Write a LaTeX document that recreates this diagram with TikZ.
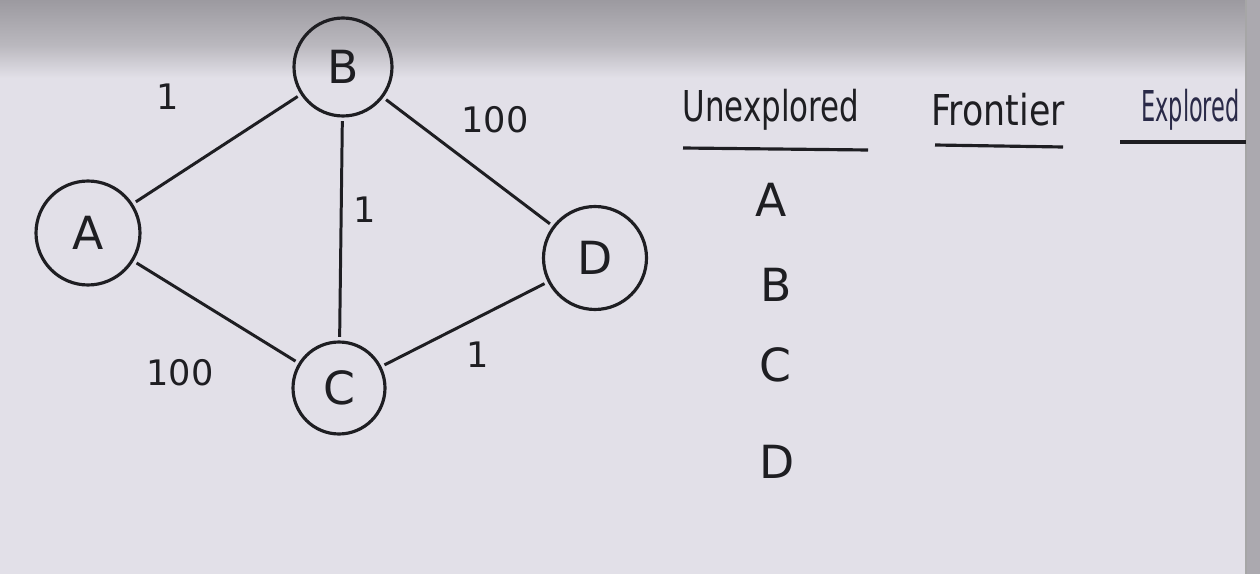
\documentclass[tikz,border=0pt]{standalone}
\usepackage{graphicx}
\usepackage{fontspec}
\setmainfont{DejaVu Sans}
\usetikzlibrary{shadings}
\definecolor{board}{HTML}{E2E0E8}
\definecolor{band}{HTML}{BAB8BE}
\definecolor{bandtop}{HTML}{9C9AA0}
\definecolor{edgegray}{HTML}{ABA9AF}
\definecolor{ink}{HTML}{1E1E22}
\definecolor{blueink}{HTML}{2A2A48}
\begin{document}
\begin{tikzpicture}[x=0.02cm,y=-0.02cm,
  vert/.style={circle,draw=ink,line width=1.8pt,inner sep=0pt,text=ink,font=\fontsize{26}{28}\selectfont},
  edge/.style={draw=ink,line width=1.7pt,shorten <=2pt,shorten >=2pt},
  wlabel/.style={text=ink,font=\fontsize{20}{22}\selectfont},
  head/.style={text=ink,font=\fontsize{22}{24}\selectfont},
  uline/.style={draw=ink,line width=1.8pt},
  item/.style={text=ink,font=\fontsize{26}{28}\selectfont}]
\useasboundingbox (0,0) rectangle (1260,574);
\fill[board] (0,0) rectangle (1260,574);
\shade[top color=bandtop, bottom color=band] (0,0) rectangle (1260,45);
\shade[top color=band, bottom color=board] (0,45) rectangle (1260,78);
\fill[edgegray] (1246,0) rectangle (1260,574);
\draw[gray!70,line width=0.6pt] (1246,0) -- (1246,574);
% vertices
\node[vert,minimum size=2.08cm] (A) at (88,233) {A};
\node[vert,minimum size=1.96cm] (B) at (343,67) {B};
\node[vert,minimum size=1.84cm] (C) at (339,388) {C};
\node[vert,minimum size=2.06cm] (D) at (595,258) {D};
% edges
\draw[edge] (A) -- (B);
\draw[edge] (B) -- (C);
\draw[edge] (B) -- (D);
\draw[edge] (A) -- (C);
\draw[edge] (C) -- (D);
% weights
\node[wlabel] (wab) at (168,97) {1};
\node[wlabel] (wbd) at (495,120) {100};
\node[wlabel] (wbc) at (365,210) {1};
\node[wlabel] (wac) at (180,373) {100};
\node[wlabel] (wcd) at (478,355) {1};
% table
\node[head] (hu) at (771,110) {\scalebox{0.8}[1.1]{Unexplored}};
\node[head] (hf) at (998,110) {\scalebox{0.9}[1.1]{Frontier}};
\node[head,text=blueink,anchor=west,inner xsep=0pt] (he) at (1141,110) {\scalebox{0.58}[1.1]{Explored}};
\coordinate (u1) at (683,148); \coordinate (u2) at (868,150);
\coordinate (f1) at (935,145); \coordinate (f2) at (1063,147);
\coordinate (e1) at (1120,142); \coordinate (e2) at (1246,142);
\draw[uline] (u1) -- (u2);
\draw[uline] (f1) -- (f2);
\draw[uline] (e1) -- (e2);
\node[item] (ia) at (771,200) {A};
\node[item] (ib) at (776,285) {B};
\node[item] (ic) at (775,365) {C};
\node[item] (id) at (777,462) {D};
\end{tikzpicture}
\end{document}
